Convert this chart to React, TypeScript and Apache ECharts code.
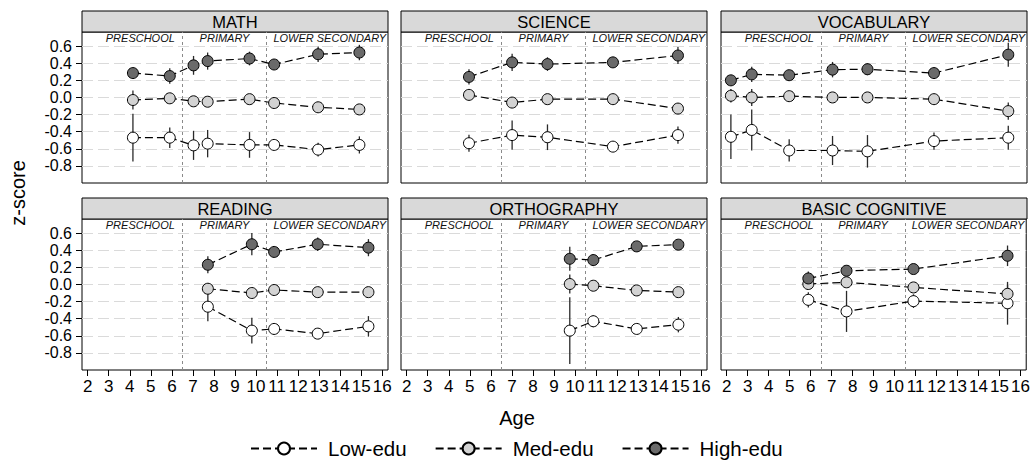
import React, { useEffect, useRef } from 'react';
import * as echarts from 'echarts';

// Panel titles, groups and school periods
const panelTitles = ['MATH', 'SCIENCE', 'VOCABULARY', 'READING', 'ORTHOGRAPHY', 'BASIC COGNITIVE'];
const groupNames = ['Low-edu', 'Med-edu', 'High-edu'];
const groupFills = ['#ffffff', '#d3d3d3', '#6a6a6a'];

const periodNames = ['PRESCHOOL', 'PRIMARY', 'LOWER SECONDARY'];
const periodCenters = [4.5, 8.5, 13.5];
const periodBounds = [6.5, 10.5];

const ageTicks = [2, 3, 4, 5, 6, 7, 8, 9, 10, 11, 12, 13, 14, 15, 16];
const zTicks = [-0.8, -0.6, -0.4, -0.2, 0, 0.2, 0.4, 0.6];

// MATH
const mathAge = [4.15, 5.9, 7.03, 7.7, 9.69, 10.86, 12.95, 14.91];
const mathLow = [-0.47, -0.47, -0.56, -0.54, -0.555, -0.555, -0.61, -0.555];
const mathLowErr = [0.28, 0.12, 0.17, 0.16, 0.15, 0.06, 0.08, 0.1];
const mathMed = [-0.03, -0.01, -0.045, -0.05, -0.02, -0.065, -0.115, -0.14];
const mathMedErr = [0.11, 0.04, 0.04, 0.04, 0.04, 0.04, 0.04, 0.04];
const mathHigh = [0.285, 0.25, 0.375, 0.425, 0.455, 0.385, 0.505, 0.525];
const mathHighErr = [0.04, 0.09, 0.11, 0.1, 0.08, 0.04, 0.09, 0.09];

// SCIENCE
const scienceAge = [4.96, 7.01, 8.69, 11.8, 14.89];
const scienceLow = [-0.535, -0.44, -0.465, -0.575, -0.44];
const scienceLowErr = [0.1, 0.17, 0.15, 0.05, 0.1];
const scienceMed = [0.03, -0.06, -0.02, -0.02, -0.13];
const scienceMedErr = [0.04, 0.04, 0.04, 0.04, 0.04];
const scienceHigh = [0.24, 0.41, 0.39, 0.41, 0.49];
const scienceHighErr = [0.09, 0.1, 0.08, 0.04, 0.1];

// VOCABULARY
const vocabAge = [2.2, 3.19, 4.97, 7.03, 8.69, 11.85, 15.38];
const vocabLow = [-0.46, -0.38, -0.62, -0.62, -0.63, -0.51, -0.47];
const vocabLowErr = [0.26, 0.24, 0.13, 0.17, 0.19, 0.1, 0.14];
const vocabMed = [0.02, 0.0, 0.015, 0.0, 0.0, -0.02, -0.16];
const vocabMedErr = [0.08, 0.1, 0.04, 0.04, 0.04, 0.04, 0.1];
const vocabHigh = [0.2, 0.27, 0.26, 0.325, 0.33, 0.285, 0.5];
const vocabHighErr = [0.05, 0.09, 0.06, 0.09, 0.07, 0.06, 0.14];

// READING
const readingAge = [7.71, 9.8, 10.86, 12.93, 15.34];
const readingLow = [-0.26, -0.54, -0.52, -0.575, -0.49];
const readingLowErr = [0.17, 0.15, 0.07, 0.06, 0.12];
const readingMed = [-0.05, -0.1, -0.065, -0.09, -0.09];
const readingMedErr = [0.06, 0.04, 0.04, 0.04, 0.04];
const readingHigh = [0.23, 0.47, 0.38, 0.47, 0.43];
const readingHighErr = [0.1, 0.13, 0.04, 0.08, 0.1];

// ORTHOGRAPHY
const orthoAge = [9.75, 10.87, 12.93, 14.91];
const orthoLow = [-0.54, -0.43, -0.52, -0.47];
const orthoLowErr = [0.39, 0.07, 0.06, 0.09];
const orthoMed = [0.005, -0.015, -0.07, -0.09];
const orthoMedErr = [0.11, 0.04, 0.04, 0.04];
const orthoHigh = [0.3, 0.285, 0.445, 0.465];
const orthoHighErr = [0.14, 0.07, 0.04, 0.05];

// BASIC COGNITIVE
const cognAge = [5.89, 7.71, 10.9, 15.38];
const cognLow = [-0.18, -0.315, -0.195, -0.22];
const cognLowErr = [0.09, 0.24, 0.08, 0.25];
const cognMed = [0.005, 0.025, -0.035, -0.11];
const cognMedErr = [0.06, 0.05, 0.05, 0.11];
const cognHigh = [0.07, 0.16, 0.18, 0.335];
const cognHighErr = [0.08, 0.06, 0.04, 0.12];

const panels = [
  { ages: mathAge, values: [mathLow, mathMed, mathHigh], errs: [mathLowErr, mathMedErr, mathHighErr] },
  { ages: scienceAge, values: [scienceLow, scienceMed, scienceHigh], errs: [scienceLowErr, scienceMedErr, scienceHighErr] },
  { ages: vocabAge, values: [vocabLow, vocabMed, vocabHigh], errs: [vocabLowErr, vocabMedErr, vocabHighErr] },
  { ages: readingAge, values: [readingLow, readingMed, readingHigh], errs: [readingLowErr, readingMedErr, readingHighErr] },
  { ages: orthoAge, values: [orthoLow, orthoMed, orthoHigh], errs: [orthoLowErr, orthoMedErr, orthoHighErr] },
  { ages: cognAge, values: [cognLow, cognMed, cognHigh], errs: [cognLowErr, cognMedErr, cognHighErr] },
];

// Layout
const FONT = '"Liberation Sans", Arial, Helvetica, sans-serif';
const colLeft = [82, 401, 721];
const rowTop = [32, 219];
const plotW = 306;
const plotH = 151;
const stripH = 21;
const xMin = 1.73;
const xMax = 16.27;
const yMin = -1.0;
const yMax = 0.765;
const periodLabelY = 0.69;

function buildOption() {
  const grid: any[] = [];
  const xAxis: any[] = [];
  const yAxis: any[] = [];
  const series: any[] = [];
  const graphic: any[] = [];

  panels.forEach((panel, i) => {
    const col = i % 3;
    const row = Math.floor(i / 3);
    const left = colLeft[col];
    const top = rowTop[row];

    grid.push({
      left,
      top,
      width: plotW,
      height: plotH,
      show: true,
      backgroundColor: '#fff',
      borderColor: '#000',
      borderWidth: 1,
    });

    xAxis.push({
      type: 'value',
      gridIndex: i,
      position: 'bottom',
      min: xMin,
      max: xMax,
      axisLine: { show: false, onZero: false },
      splitLine: { show: false },
      axisTick: {
        show: row === 1,
        customValues: ageTicks,
        length: 6,
        lineStyle: { color: '#000', width: 1 },
      },
      axisLabel: {
        show: row === 1,
        customValues: ageTicks,
        fontSize: 17,
        color: '#000',
        margin: 8,
        fontFamily: FONT,
      },
    });

    yAxis.push({
      type: 'value',
      gridIndex: i,
      position: 'left',
      min: yMin,
      max: yMax,
      axisLine: { show: false, onZero: false },
      splitLine: { show: false },
      axisTick: {
        show: col === 0,
        customValues: zTicks,
        length: 6,
        lineStyle: { color: '#000', width: 1 },
      },
      axisLabel: {
        show: col === 0,
        customValues: zTicks,
        fontSize: 16,
        color: '#000',
        margin: 10,
        fontFamily: FONT,
        formatter: (v: number) => v.toFixed(1),
      },
    });

    // period labels + reference lines
    series.push({
      type: 'custom',
      xAxisIndex: i,
      yAxisIndex: i,
      silent: true,
      z: 1,
      data: periodCenters.map((c) => [c, periodLabelY]),
      encode: { x: 0, y: 1 },
      renderItem: (params: any, api: any) => {
        const p = api.coord([api.value(0), api.value(1)]);
        return {
          type: 'text',
          x: p[0],
          y: p[1],
          style: {
            text: periodNames[params.dataIndex],
            fontStyle: 'italic',
            fontSize: 11,
            fontFamily: FONT,
            fill: '#111',
            align: 'center',
            verticalAlign: 'middle',
          },
        };
      },
      markLine: {
        silent: true,
        z: 1,
        symbol: ['none', 'none'],
        label: { show: false },
        emphasis: { disabled: true },
        data: [
          ...zTicks.map((v) => ({
            yAxis: v,
            lineStyle: { color: '#dadada', width: 1.2, type: [11, 5] },
          })),
          ...periodBounds.map((v) => ({
            xAxis: v,
            lineStyle: { color: '#8a8a8a', width: 1, type: [3, 3] },
          })),
        ],
      },
    });

    // confidence bars
    const bars: number[][] = [];
    panel.values.forEach((vals, g) => {
      vals.forEach((v, k) => {
        const e = panel.errs[g][k];
        bars.push([panel.ages[k], v - e, v + e]);
      });
    });
    series.push({
      type: 'custom',
      xAxisIndex: i,
      yAxisIndex: i,
      silent: true,
      z: 2,
      data: bars,
      encode: { x: 0, y: [1, 2] },
      renderItem: (params: any, api: any) => {
        const a = api.coord([api.value(0), api.value(1)]);
        const b = api.coord([api.value(0), api.value(2)]);
        return {
          type: 'line',
          shape: { x1: a[0], y1: a[1], x2: b[0], y2: b[1] },
          style: { stroke: '#2a2a2a', lineWidth: 1.3 },
        };
      },
    });

    // group lines with markers
    panel.values.forEach((vals, g) => {
      series.push({
        type: 'line',
        name: groupNames[g],
        xAxisIndex: i,
        yAxisIndex: i,
        z: 3,
        data: vals.map((v, k) => [panel.ages[k], v]),
        symbol: 'circle',
        symbolSize: 11,
        showAllSymbol: true,
        itemStyle: { color: groupFills[g], borderColor: '#000', borderWidth: 1 },
        lineStyle: { color: '#000', width: 1.2, type: [8, 4] },
        emphasis: { disabled: true },
      });
    });

    // panel header strip
    graphic.push({
      type: 'group',
      children: [
        {
          type: 'rect',
          shape: { x: left, y: top - stripH, width: plotW, height: stripH },
          style: { fill: '#d9d9d9', stroke: '#000', lineWidth: 1 },
        },
        {
          type: 'text',
          x: left + plotW / 2,
          y: top - stripH / 2 + 0.5,
          style: {
            text: panelTitles[i],
            fontSize: 16.5,
            fontFamily: FONT,
            fill: '#000',
            align: 'center',
            verticalAlign: 'middle',
          },
        },
      ],
    });
  });

  graphic.push({
    type: 'text',
    x: 18,
    y: 193,
    rotation: Math.PI / 2,
    style: {
      text: 'z-score',
      fontSize: 20,
      fontFamily: FONT,
      fill: '#000',
      align: 'center',
      verticalAlign: 'middle',
    },
  });
  graphic.push({
    type: 'text',
    x: 517,
    y: 418,
    style: {
      text: 'Age',
      fontSize: 20,
      fontFamily: FONT,
      fill: '#000',
      align: 'center',
      verticalAlign: 'middle',
    },
  });

  return {
    animation: false,
    backgroundColor: '#fff',
    textStyle: { fontFamily: FONT },
    grid,
    xAxis,
    yAxis,
    series,
    graphic,
    legend: {
      data: groupNames,
      left: 245,
      top: 433,
      padding: 5,
      itemWidth: 66,
      itemHeight: 15,
      itemGap: 28,
      selectedMode: false,
      textStyle: { fontSize: 20.5, color: '#000', fontFamily: FONT, padding: [0, 0, 0, 6] },
    },
  };
}

export default function App() {
  const ref = useRef<HTMLDivElement>(null);
  useEffect(() => {
    if (!ref.current) return;
    const chart = echarts.init(ref.current, undefined, { renderer: 'svg' });
    chart.setOption(buildOption() as any);
    return () => chart.dispose();
  }, []);
  return (
    <div
      ref={ref}
      style={{ position: 'fixed', left: 0, top: 0, width: 1033, height: 465, background: '#fff' }}
    />
  );
}
